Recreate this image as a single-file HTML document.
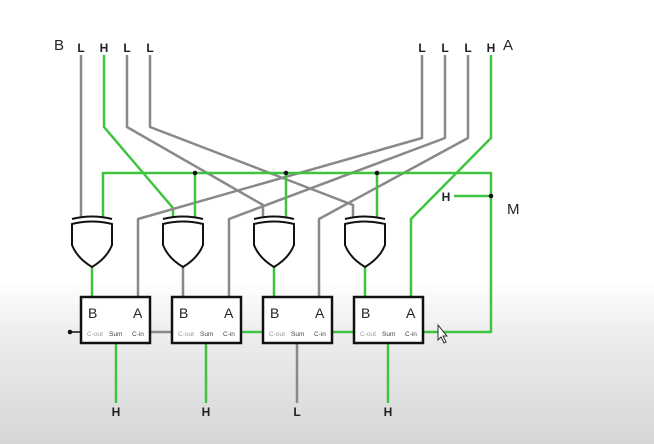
<!DOCTYPE html>
<html><head><meta charset="utf-8"><style>
html,body{margin:0;padding:0;width:654px;height:444px;overflow:hidden}
body{background:linear-gradient(to bottom,#fff 0,#fff 280px,#ececec 340px,#d6d6d6 444px)}
svg{position:absolute;left:0;top:0}
text{font-family:"Liberation Sans",sans-serif}
</style></head><body>
<svg width="654" height="444">
<g fill="none" stroke-width="2.5" stroke-linejoin="round">
<!-- B inputs -->
<polyline stroke="#8c8888" points="81,55 81,218"/>
<polyline stroke="#3fc43f" points="104,55 104,127 173,208 173,218"/>
<polyline stroke="#8c8888" points="127,55 127,127 263,205 263,218"/>
<polyline stroke="#8c8888" points="150,55 150,127 353,205 353,218"/>
<!-- A inputs -->
<polyline stroke="#8c8888" points="422,55 422,138 138,219 138,297"/>
<polyline stroke="#8c8888" points="445,55 445,138 229,219 229,297"/>
<polyline stroke="#8c8888" points="468,55 468,138 319,219 319,297"/>
<polyline stroke="#3fc43f" points="491,55 491,138 411,219 411,297"/>
<!-- M bus -->
<polyline stroke="#3fc43f" points="103,218 103,173 491,173 491,332 437,332"/>
<line stroke="#3fc43f" x1="195" y1="173" x2="195" y2="218"/>
<line stroke="#3fc43f" x1="286" y1="173" x2="286" y2="218"/>
<line stroke="#3fc43f" x1="377" y1="173" x2="377" y2="218"/>
<line stroke="#3fc43f" x1="454" y1="196" x2="491" y2="196"/>
<!-- gate outputs -->
<line stroke="#3fc43f" x1="92" y1="266" x2="92" y2="297"/>
<line stroke="#8c8888" x1="183" y1="266" x2="183" y2="297"/>
<line stroke="#3fc43f" x1="274" y1="266" x2="274" y2="297"/>
<line stroke="#3fc43f" x1="365" y1="266" x2="365" y2="297"/>
<!-- carries -->
<line stroke="#8c8888" x1="150" y1="332" x2="172" y2="332"/>
<line stroke="#3fc43f" x1="241" y1="332" x2="263" y2="332"/>
<line stroke="#3fc43f" x1="332" y1="332" x2="354" y2="332"/>
<line stroke="#3fc43f" x1="423" y1="332" x2="440" y2="332"/>
<line stroke="#111" stroke-width="1.5" x1="70" y1="332" x2="81" y2="332"/>
<!-- sums -->
<line stroke="#3fc43f" x1="116" y1="343" x2="116" y2="403"/>
<line stroke="#3fc43f" x1="206" y1="343" x2="206" y2="403"/>
<line stroke="#8c8888" x1="297" y1="343" x2="297" y2="403"/>
<line stroke="#3fc43f" x1="388" y1="343" x2="388" y2="403"/>
</g>
<g fill="#111">
<circle cx="195" cy="173" r="2.3"/><circle cx="286" cy="173" r="2.3"/><circle cx="377" cy="173" r="2.3"/>
<circle cx="491" cy="196" r="2.3"/><circle cx="70" cy="332" r="2.3"/>
</g>
<g fill="#fff" stroke="#111" stroke-width="2">
<g transform="translate(92,0)"><path d="M-20,224 Q0,219 20,224 L20,245 Q15,258 0,267 Q-15,258 -20,245 Z"/><path fill="none" d="M-20,219 Q0,214 20,219"/></g>
<g transform="translate(183,0)"><path d="M-20,224 Q0,219 20,224 L20,245 Q15,258 0,267 Q-15,258 -20,245 Z"/><path fill="none" d="M-20,219 Q0,214 20,219"/></g>
<g transform="translate(274,0)"><path d="M-20,224 Q0,219 20,224 L20,245 Q15,258 0,267 Q-15,258 -20,245 Z"/><path fill="none" d="M-20,219 Q0,214 20,219"/></g>
<g transform="translate(365,0)"><path d="M-20,224 Q0,219 20,224 L20,245 Q15,258 0,267 Q-15,258 -20,245 Z"/><path fill="none" d="M-20,219 Q0,214 20,219"/></g>
</g>
<g stroke="#111" stroke-width="2.5" fill="#fff">
<rect x="81" y="297" width="69" height="46"/>
<rect x="172" y="297" width="69" height="46"/>
<rect x="263" y="297" width="69" height="46"/>
<rect x="354" y="297" width="69" height="46"/>
</g>
<g font-size="14" fill="#222">
<text x="88" y="318">B</text><text x="133" y="318">A</text>
<text x="179" y="318">B</text><text x="224" y="318">A</text>
<text x="270" y="318">B</text><text x="315" y="318">A</text>
<text x="361" y="318">B</text><text x="406" y="318">A</text>
</g>
<g font-size="6.5" fill="#444">
<text x="87" y="336" fill="#999">C-out</text><text x="109" y="336">Sum</text><text x="132" y="336">C-in</text>
<text x="178" y="336" fill="#999">C-out</text><text x="200" y="336">Sum</text><text x="223" y="336">C-in</text>
<text x="269" y="336" fill="#999">C-out</text><text x="291" y="336">Sum</text><text x="314" y="336">C-in</text>
<text x="360" y="336" fill="#999">C-out</text><text x="382" y="336">Sum</text><text x="405" y="336">C-in</text>
</g>
<g font-size="12" font-weight="bold" fill="#222" text-anchor="middle">
<text x="81" y="52">L</text><text x="104" y="52">H</text><text x="127" y="52">L</text><text x="150" y="52">L</text>
<text x="422" y="52">L</text><text x="445" y="52">L</text><text x="468" y="52">L</text><text x="491" y="52">H</text>
<text x="446" y="201">H</text>
<text x="116" y="416">H</text><text x="206" y="416">H</text><text x="297" y="416">L</text><text x="388" y="416">H</text>
</g>
<g font-size="15" fill="#222">
<text x="54" y="50">B</text>
<text x="503" y="50">A</text>
<text x="507" y="214">M</text>
</g>
<path d="M438,325 L438,340 L441,337 L444,343 L446,342 L443,336 L447,336 Z" fill="#fff" stroke="#333" stroke-width="1"/>
</svg>
</body></html>
